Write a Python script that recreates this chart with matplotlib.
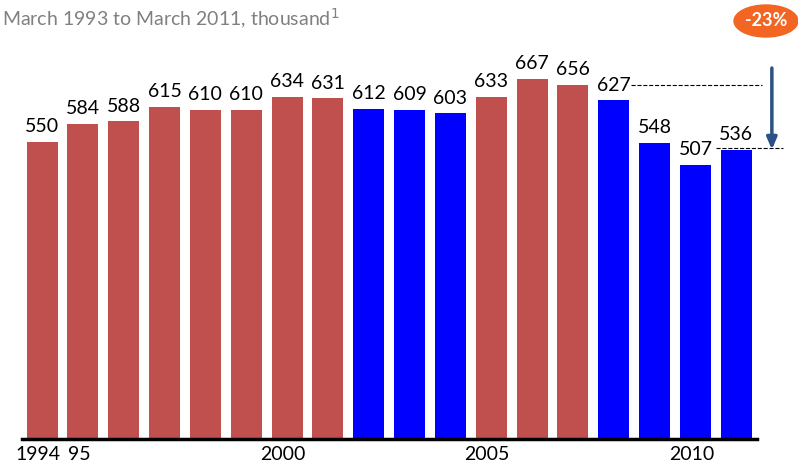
import matplotlib
matplotlib.use('Agg')
import matplotlib.pyplot as plt
from matplotlib.patches import Ellipse

plt.rcParams['font.family'] = ['Lato', 'DejaVu Sans']

years = list(range(1994, 2012))
values = [550, 584, 588, 615, 610, 610, 634, 631, 612, 609, 603, 633, 667, 656, 627, 548, 507, 536]
groups = ['r'] * 8 + ['b'] * 3 + ['r'] * 3 + ['b'] * 4
tick_years = [1994, 1995, 2000, 2005, 2010]
tick_labels = ['1994', '95', '2000', '2005', '2010']
change_label = '-23%'

red = '#C0504D'
blue = '#0000FF'

fig = plt.figure(figsize=(7.98, 4.71), dpi=100)
ax = fig.add_axes([0, 32 / 471, 1, 405 / 471])

x = list(range(len(years)))
colors = [red if g == 'r' else blue for g in groups]
ax.bar(x, values, width=0.76, color=colors)

for xi, v in zip(x, values):
    ax.annotate(str(v), (xi, v), xytext=(0, 7), textcoords='offset points',
                ha='center', va='baseline', fontsize=14, color='black')

ax.set_xlim(-1.03, 18.51)
ax.set_ylim(0, 750)

for s in ['top', 'right', 'left']:
    ax.spines[s].set_visible(False)
ax.spines['bottom'].set_linewidth(2.5)
ax.spines['bottom'].set_bounds(-0.5, 17.5)
ax.set_yticks([])
ax.set_xticks([years.index(y) - 0.1 for y in tick_years])
ax.set_xticklabels(tick_labels, fontsize=14)
ax.tick_params(axis='x', length=0, pad=5)

# reference lines for the drop from 2007 to 2011
ax.plot([14.42, 17.63], [values[13], values[13]], ls='--', color='black', lw=0.8)
ax.plot([16.5, 18.14], [values[-1] + 3, values[-1] + 3], ls='--', color='black', lw=0.8)
ax.annotate('', xy=(17.87, values[-1]), xytext=(17.87, 687),
            arrowprops=dict(arrowstyle='-|>,head_width=0.3,head_length=0.7',
                            color='#2A5285', lw=2.5, shrinkA=0, shrinkB=0),
            annotation_clip=False)

fig.text(2 / 798, 1 - 26 / 471, 'March 1993 to March 2011, thousand$^1$',
         fontsize=14, color='#808080', va='baseline', ha='left')

oval = Ellipse((766 / 798, 1 - 21 / 471), 64 / 798, 32 / 471,
               transform=fig.transFigure, color='#F26522')
fig.patches.append(oval)
fig.text(766 / 798, 1 - 21 / 471, change_label, fontsize=13, color='white',
         fontweight='bold', ha='center', va='center')

fig.savefig('out.png', dpi=100)
